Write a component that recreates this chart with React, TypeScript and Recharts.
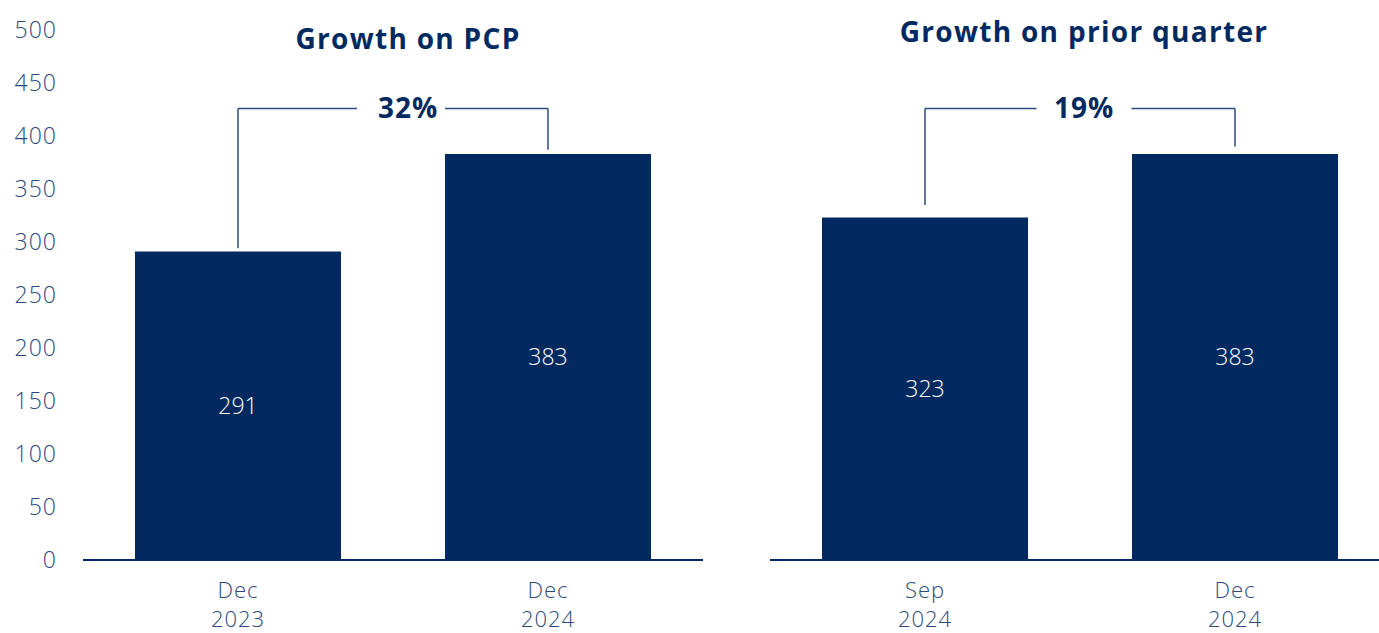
import { Bar, BarChart, LabelList, ReferenceLine, XAxis, YAxis } from "recharts"

const pcpCategories = ["Dec 2023", "Dec 2024"]
const pcpValues = [291, 383]
const pcpGrowth = "32%"

const quarterCategories = ["Sep 2024", "Dec 2024"]
const quarterValues = [323, 383]
const quarterGrowth = "19%"

const yTicks = [0, 50, 100, 150, 200, 250, 300, 350, 400, 450, 500]

// bracket levels, in data units
const pcpBracket = [294, 426, 387]
const quarterBracket = [335, 426, 390]

const NAVY = "#022a60"
const LINE = "#2c4b7d"
const TICK = "#2b4a7b"
const FONT = "'Open Sans', sans-serif"

const pcpData = pcpCategories.map((name, i) => ({ name, value: pcpValues[i] }))
const quarterData = quarterCategories.map((name, i) => ({ name, value: quarterValues[i] }))

function CategoryTick(props: any) {
  const { x, payload } = props
  const [month, year] = String(payload.value).split(" ")
  return (
    <g>
      <text x={x} y={598} textAnchor="middle" fill={TICK} fontSize={22} fontFamily={FONT} fontWeight={300} letterSpacing={1}>
        {month}
      </text>
      <text x={x} y={627} textAnchor="middle" fill={TICK} fontSize={22} fontFamily={FONT} fontWeight={300} letterSpacing={1}>
        {year}
      </text>
    </g>
  )
}

function ValueTick(props: any) {
  const { y, payload } = props
  return (
    <text x={57} y={y + 8} textAnchor="end" fill={TICK} fontSize={23} fontFamily={FONT} fontWeight={300} letterSpacing={1}>
      {payload.value}
    </text>
  )
}

function GrowthLabel(props: any) {
  const { viewBox, text, gap, gapDx, textDx } = props
  const mid = viewBox.x + viewBox.width / 2
  const cy = viewBox.y
  return (
    <g>
      <rect x={mid + gapDx - gap / 2} y={cy - 4} width={gap} height={8} fill="#ffffff" />
      <text x={mid + textDx} y={cy + 10} textAnchor="middle" fill={NAVY} fontSize={28} fontWeight={700} fontFamily={FONT} letterSpacing={1}>
        {text}
      </text>
    </g>
  )
}

function Bracket(cats: string[], levels: number[], label: string, gap: number, gapDx: number, textDx: number) {
  return [
    <ReferenceLine
      key="l"
      segment={[{ x: cats[0], y: levels[0] }, { x: cats[0], y: levels[1] }]}
      stroke={LINE}
      strokeWidth={1.5}
    />,
    <ReferenceLine
      key="r"
      segment={[{ x: cats[1], y: levels[2] }, { x: cats[1], y: levels[1] }]}
      stroke={LINE}
      strokeWidth={1.5}
    />,
    <ReferenceLine
      key="h"
      segment={[{ x: cats[0], y: levels[1] }, { x: cats[1], y: levels[1] }]}
      stroke={LINE}
      strokeWidth={1.5}
      label={<GrowthLabel text={label} gap={gap} gapDx={gapDx} textDx={textDx} />}
    />
  ]
}

const titleStyle: React.CSSProperties = {
  position: "absolute",
  width: 500,
  textAlign: "center",
  color: NAVY,
  fontFamily: FONT,
  fontWeight: 700,
  fontSize: 28,
  letterSpacing: 1.3,
  lineHeight: "30px",
  whiteSpace: "nowrap"
}

export default function App() {
  return (
    <div style={{ position: "fixed", left: 0, top: 0, width: 1379, height: 633, overflow: "hidden", background: "#ffffff" }}>
      <div style={{ ...titleStyle, left: 158, top: 23 }}>Growth on PCP</div>
      <div style={{ ...titleStyle, left: 834, top: 16 }}>Growth on prior quarter</div>

      <div style={{ position: "absolute", left: 0, top: 0 }}>
        <BarChart width={710} height={633} data={pcpData} margin={{ top: 30, right: 7, bottom: 0, left: 0 }} barCategoryGap={52}>
          <YAxis width={83} domain={[0, 500]} ticks={yTicks} axisLine={false} tickLine={false} tick={<ValueTick />} interval={0} />
          <XAxis dataKey="name" height={73} tickLine={false} axisLine={{ stroke: NAVY, strokeWidth: 2 }} tick={<CategoryTick />} />
          <Bar dataKey="value" fill={NAVY} isAnimationActive={false}>
            <LabelList dataKey="value" position="center" fill="#ffffff" fontSize={23} fontWeight={300} fontFamily={FONT} />
          </Bar>
          {Bracket(pcpCategories, pcpBracket, pcpGrowth, 88, 8, 15)}
        </BarChart>
      </div>

      <div style={{ position: "absolute", left: 700, top: 0 }}>
        <BarChart width={690} height={633} data={quarterData} margin={{ top: 30, right: 0, bottom: 0, left: 70 }} barCategoryGap={52}>
          <YAxis hide domain={[0, 500]} ticks={yTicks} />
          <XAxis dataKey="name" height={73} tickLine={false} axisLine={{ stroke: NAVY, strokeWidth: 2 }} tick={<CategoryTick />} />
          <Bar dataKey="value" fill={NAVY} isAnimationActive={false}>
            <LabelList dataKey="value" position="center" fill="#ffffff" fontSize={23} fontWeight={300} fontFamily={FONT} />
          </Bar>
          {Bracket(quarterCategories, quarterBracket, quarterGrowth, 95, 4, 4)}
        </BarChart>
      </div>
    </div>
  )
}
